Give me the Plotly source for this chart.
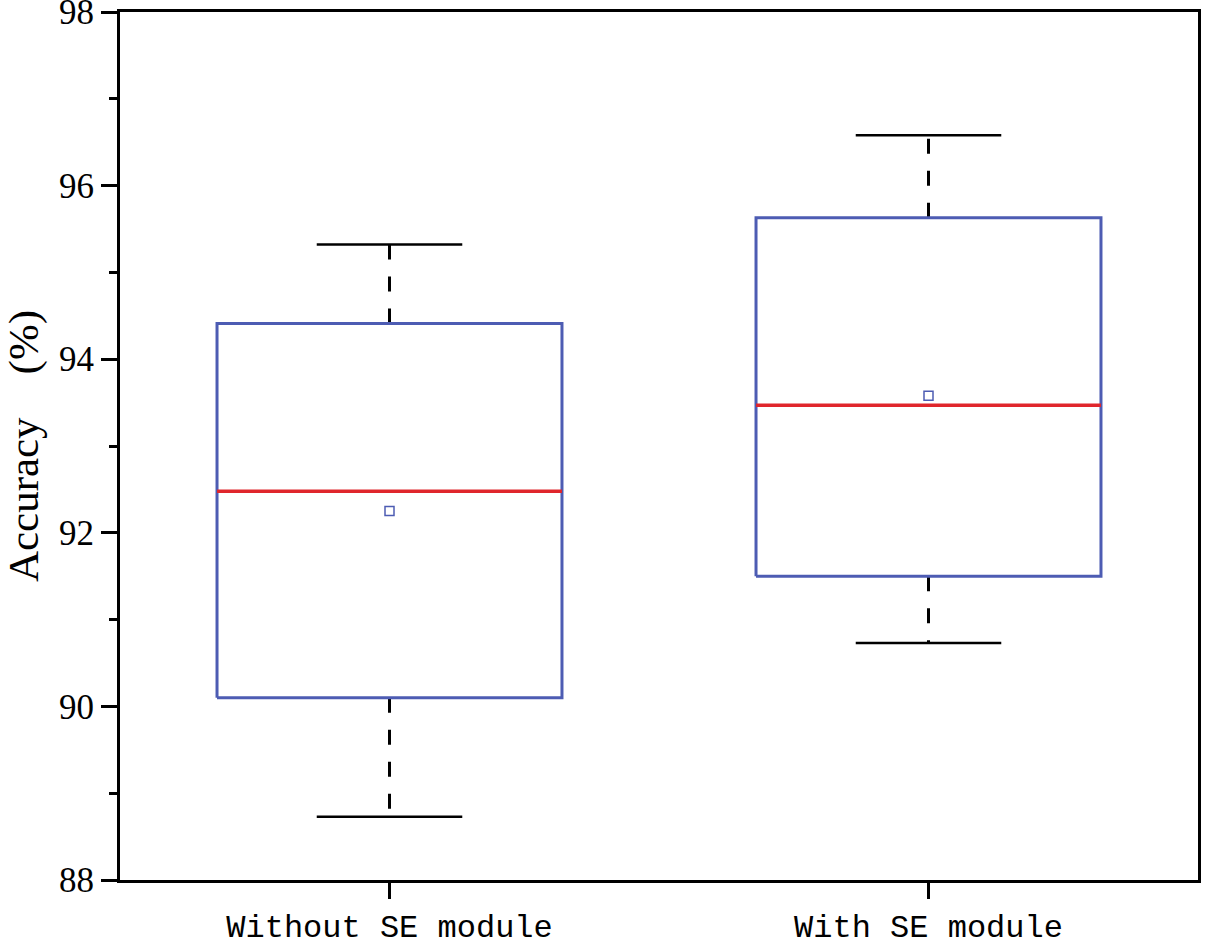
import plotly.graph_objects as go

# box statistics (accuracy, %)
categories = ["Without SE module", "With SE module"]
q1 = [90.10, 91.50]
q3 = [94.41, 95.63]
median = [92.48, 93.47]
lower = [88.73, 90.73]
upper = [95.32, 96.58]
mean = [92.25, 93.58]

BOX_W = 0.32   # half width of box
CAP_W = 0.135  # half width of whisker caps
box_color = "#4d5cb3"
med_color = "#e0262c"

fig = go.Figure()

for i, name in enumerate(categories):
    # dashed whiskers, drawn from box edge outward
    for y0, y1 in [(q3[i], upper[i]), (q1[i], lower[i])]:
        fig.add_trace(go.Scatter(x=[i, i], y=[y0, y1], mode="lines",
                                 line=dict(color="black", width=3, dash="15px,17px"),
                                 showlegend=False, hoverinfo="skip"))
    # caps
    for yc in [upper[i], lower[i]]:
        fig.add_trace(go.Scatter(x=[i - CAP_W, i + CAP_W], y=[yc, yc], mode="lines",
                                 line=dict(color="black", width=2.5),
                                 showlegend=False, hoverinfo="skip"))
    # box outline
    fig.add_trace(go.Scatter(x=[i - BOX_W, i + BOX_W, i + BOX_W, i - BOX_W, i - BOX_W],
                             y=[q1[i], q1[i], q3[i], q3[i], q1[i]],
                             mode="lines", line=dict(color=box_color, width=3),
                             name=name, showlegend=False))
    # median
    fig.add_trace(go.Scatter(x=[i - BOX_W, i + BOX_W], y=[median[i], median[i]],
                             mode="lines", line=dict(color=med_color, width=3.5),
                             showlegend=False))

# mean markers
fig.add_trace(go.Scatter(x=list(range(len(categories))), y=mean, mode="markers",
                         marker=dict(symbol="square-open", size=9,
                                     color=box_color, line=dict(width=1.5)),
                         showlegend=False))

fig.update_layout(
    width=1205, height=944,
    margin=dict(l=120, r=7, t=12, b=64),
    plot_bgcolor="white", paper_bgcolor="white",
)

fig.update_xaxes(
    range=[-0.5, 1.5], tickvals=list(range(len(categories))), ticktext=categories,
    showgrid=False, zeroline=False, automargin=False,
    showline=True, linecolor="black", linewidth=3, mirror=True,
    ticks="outside", ticklen=16, tickwidth=3, tickcolor="black",
    tickfont=dict(family="Liberation Mono", size=32, color="black"),
    ticklabeloverflow="allow",
)
fig.update_yaxes(
    range=[88, 98], tickvals=[88, 90, 92, 94, 96, 98], autorange=False,
    showgrid=False, zeroline=False, automargin=False,
    showline=True, linecolor="black", linewidth=3, mirror=True,
    ticks="outside", ticklen=16, tickwidth=3, tickcolor="black",
    tickfont=dict(family="Liberation Serif", size=35, color="black"),
    ticklabeloverflow="allow",
    minor=dict(dtick=1, ticks="outside", ticklen=8, tickwidth=3, tickcolor="black"),
    title=dict(text="Accuracy\u2003(%)", standoff=16,
               font=dict(family="Liberation Serif", size=43, color="black")),
)

# drop the page's default body margin so the figure sits at the window corner
fig.write_html("out.html", config={"displayModeBar": False},
               post_script="document.body.style.margin='0';")
